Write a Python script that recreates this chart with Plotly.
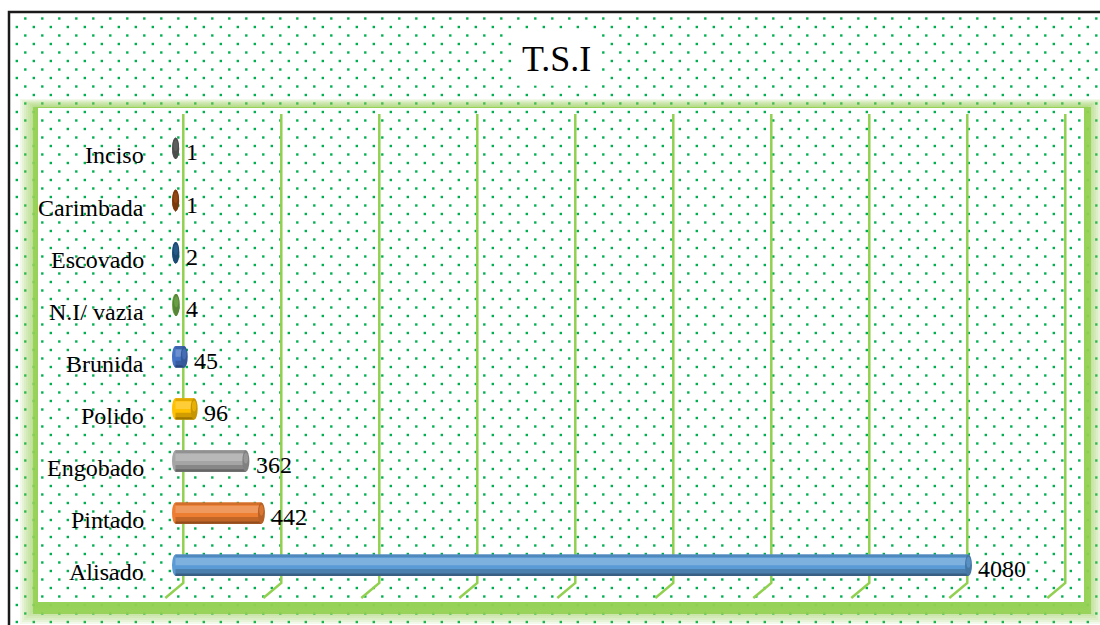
import plotly.graph_objects as go

# ---------------- data ----------------
categories = ["Alisado", "Pintado", "Engobado", "Polido", "Brunida",
              "N.I/ vazia", "Escovado", "Carimbada", "Inciso"]
values = [4080, 442, 362, 96, 45, 4, 2, 1, 1]
bar_colors = ["#5B9BD5", "#ED7D31", "#A5A5A5", "#FFC000", "#4472C4",
              "#70AD47", "#255E91", "#9E480E", "#636363"]
title_text = "T.S.I"
grid_step = 500
grid_count = 10

# ---------------- helpers ----------------
W, H = 1100, 625
FONT = "Liberation Serif, Times New Roman, serif"
GREEN = "#92D050"


def fx(px):
    return px / W


def fy(py):
    return 1 - py / H


def shade(hexc, t):
    """t>0 lighten toward white, t<0 darken toward black"""
    hexc = hexc.lstrip("#")
    r, g, b = (int(hexc[i:i + 2], 16) for i in (0, 2, 4))
    if t >= 0:
        r, g, b = (int(c + (255 - c) * t) for c in (r, g, b))
    else:
        r, g, b = (int(c * (1 + t)) for c in (r, g, b))
    return f"rgb({r},{g},{b})"


def lattice(x0, y0, x1, y1):
    xs, ys = [], []
    m = 0
    while True:
        y = 18.5 + 8.5 * m
        if y > y1:
            break
        if y >= y0:
            off = 8.3 if m % 2 == 0 else 16.8
            k = 0
            while True:
                x = off + 17 * k
                if x > x1:
                    break
                if x >= x0:
                    xs.append(x)
                    ys.append(y)
                k += 1
        m += 1
    return xs, ys


def rect_trace(x0, y0, x1, y1, color):
    return go.Scatter(x=[x0, x1, x1, x0, x0], y=[y0, y0, y1, y1, y0],
                      mode="lines", line=dict(width=0), fill="toself",
                      fillcolor=color, hoverinfo="skip", showlegend=False,
                      xaxis="x", yaxis="y")


fig = go.Figure()

# ---- background pattern (pixel-space subplot) ----
dx, dy = lattice(12, 15, W, H)
fig.add_trace(go.Scatter(x=dx, y=dy, mode="markers",
                         marker=dict(symbol="square", size=2.4, color="#00B050", line=dict(width=0)),
                         hoverinfo="skip", showlegend=False, xaxis="x", yaxis="y"))

IX0, IY0, IX1, IY1 = 38, 108, 1084, 602
for e in [18, 16, 14, 12, 10, 8, 6, 4, 2]:
    fig.add_trace(rect_trace(IX0 - e, IY0 - 0.5 * e, IX1 + e, IY1 + e + 4, "rgba(146,208,80,0.12)"))
fig.add_trace(rect_trace(IX0 - 5, IY0 - 1, IX1 + 7, IY1 + 12, "rgba(146,208,80,0.85)"))
fig.add_trace(rect_trace(IX0, IY0, IX1, IY1, "white"))
ix, iy = lattice(IX0 + 1, IY0 + 1, IX1 - 1, IY1 - 1)
fig.add_trace(go.Scatter(x=ix, y=iy, mode="markers",
                         marker=dict(symbol="square", size=2.4, color="#00B050", line=dict(width=0)),
                         hoverinfo="skip", showlegend=False, xaxis="x", yaxis="y"))

# ---- cylinder bars (subplot x2y2) ----
idx = list(range(len(categories)))
half = 0.205
layers = [
    (-half, 2 * half, 0.0),
    (-half, 0.13, -0.18),
    (-half, 0.045, -0.38),
    (0.0, 0.14, 0.22),
    (0.17, 0.035, -0.12),
]
for off, wid, t in layers:
    fig.add_trace(go.Bar(orientation="h", x=values, y=idx,
                         width=[wid] * len(idx), offset=[off] * len(idx),
                         marker=dict(color=[shade(c, t) for c in bar_colors], line=dict(width=0)),
                         hoverinfo="skip", showlegend=False, xaxis="x2", yaxis="y2"))

# category-axis pixel geometry
CY0 = 565.2   # centre of first category
CSTEP = 52.1  # pixels per category
px0 = 175.5   # x of value 0
scale = 0.19436  # pixels per unit

shapes = []
# 3-D style gridlines (back wall + floor slant)
y_top = (CY0 - 114) / CSTEP
y_back = (CY0 - 583) / CSTEP
y_front = (CY0 - 598) / CSTEP
for k in range(grid_count):
    off = -10.2 + 0.82 * k
    shapes.append(dict(type="path", xref="x2", yref="y2", xsizemode="pixel", xanchor=k * grid_step,
                       path=f"M {off:.2f},{y_front:.3f} L {off + 18:.2f},{y_back:.3f} L {off + 18:.2f},{y_top:.3f}",
                       line=dict(color=GREEN, width=2.5), layer="below"))
# left caps
for i, c in zip(idx, bar_colors):
    shapes.append(dict(type="circle", xref="x2", yref="y2", xsizemode="pixel", xanchor=0,
                       x0=-3.5, x1=3.5, y0=i - half, y1=i + half,
                       fillcolor=c, line=dict(width=0), layer="below"))
# right caps
for i, v, c in zip(idx, values, bar_colors):
    shapes.append(dict(type="circle", xref="x2", yref="y2", xsizemode="pixel", xanchor=v,
                       x0=-3.5, x1=3.5, y0=i - half, y1=i + half,
                       fillcolor=shade(c, -0.22), line=dict(width=0), layer="above"))
    shapes.append(dict(type="circle", xref="x2", yref="y2", xsizemode="pixel", xanchor=v,
                       x0=-2.2, x1=2.2, y0=i - 0.05, y1=i + 0.16,
                       fillcolor=shade(c, 0.05), line=dict(width=0), layer="above", opacity=0.6))
# outer chart border (left and top edges visible)
shapes.append(dict(type="rect", xref="paper", yref="paper", x0=fx(9), x1=1.1, y0=-0.1, y1=fy(12),
                   line=dict(color="#1a1a1a", width=2.5), fillcolor="rgba(0,0,0,0)", layer="above"))

annotations = []
for i, name in zip(idx, categories):
    annotations.append(dict(xref="paper", yref="y2", x=fx(146), y=i, text=name, showarrow=False,
                            xanchor="right", yanchor="middle", yshift=-7,
                            font=dict(family=FONT, size=24, color="black")))
for i, v in zip(idx, values):
    annotations.append(dict(xref="x2", yref="y2", x=v, y=i, text=str(v), showarrow=False,
                            xanchor="left", yanchor="middle", xshift=8, yshift=-4,
                            font=dict(family=FONT, size=24, color="black")))
annotations.append(dict(xref="paper", yref="paper", x=fx(556), y=fy(59), text=title_text, showarrow=False,
                        xanchor="center", yanchor="middle", bgcolor="white", borderpad=6,
                        font=dict(family=FONT, size=36, color="black")))

x2_lo, x2_hi = -100, 4600
y2_lo, y2_hi = -0.7, 8.7

fig.update_layout(
    width=W, height=H, margin=dict(l=0, r=0, t=0, b=0),
    paper_bgcolor="white", plot_bgcolor="rgba(0,0,0,0)",
    barmode="overlay", showlegend=False,
    xaxis=dict(domain=[0, 1], range=[0, W], visible=False, fixedrange=True),
    yaxis=dict(domain=[0, 1], range=[H, 0], visible=False, fixedrange=True),
    xaxis2=dict(domain=[fx(px0 + x2_lo * scale), fx(px0 + x2_hi * scale)], range=[x2_lo, x2_hi],
                anchor="y2", showgrid=False, zeroline=False, showticklabels=False, showline=False,
                fixedrange=True),
    yaxis2=dict(domain=[fy(CY0 - y2_lo * CSTEP), fy(CY0 - y2_hi * CSTEP)], range=[y2_lo, y2_hi],
                anchor="x2", showgrid=False, zeroline=False, showticklabels=False, showline=False,
                fixedrange=True),
    shapes=shapes, annotations=annotations,
)

fig.write_html("out.html", config={"displayModeBar": False},
               post_script="document.body.style.margin='0px';document.body.style.overflow='hidden';")
